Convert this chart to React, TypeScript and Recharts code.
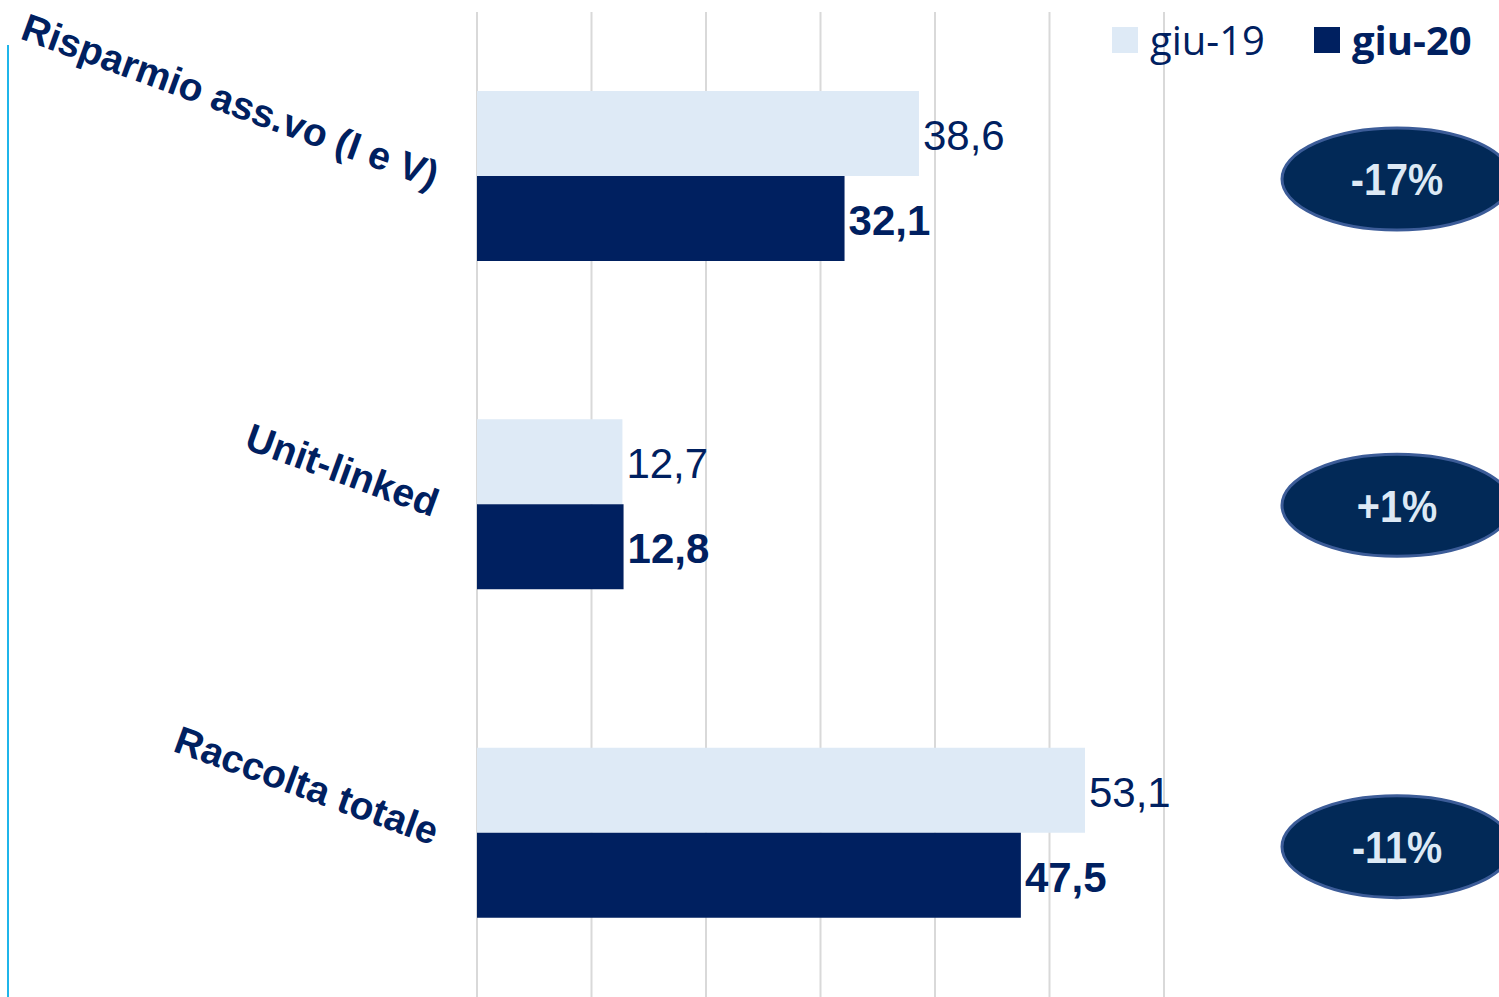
import React from 'react';
import { BarChart, Bar, XAxis, YAxis, CartesianGrid, LabelList, Legend } from 'recharts';

const categories = ['Risparmio ass.vo (I e V)', 'Unit-linked', 'Raccolta totale'];
const giu19 = [38.6, 12.7, 53.1];
const giu20 = [32.1, 12.8, 47.5];
const changes = ['-17%', '+1%', '-11%'];
const xTicks = [0, 10, 20, 30, 40, 50, 60];
const seriesNames = ['giu-19', 'giu-20'];

const data = categories.map((c, i) => ({
  category: c,
  giu19: giu19[i],
  giu20: giu20[i],
  change: changes[i],
}));

const NAVY = '#002060';
const LIGHT = '#deeaf6';
const BADGE_FILL = '#022957';
const BADGE_STROKE = '#3c5c98';
const BADGE_TEXT = '#dde9f5';
const badgeNudge = [3, 1, 14];

const fmt = (v: number) => v.toFixed(1).replace('.', ',');

const CatTick = (props: any) => {
  const { x, y, payload } = props;
  return (
    <text
      x={x}
      y={y}
      transform={`rotate(20, ${x}, ${y})`}
      textAnchor="end"
      dominantBaseline="central"
      fontFamily="'Liberation Sans', Arial, sans-serif"
      fontWeight={700}
      fontSize={39}
      fill={NAVY}
    >
      {payload.value}
    </text>
  );
};

const makeValueLabel = (bold: boolean) => (props: any) => {
  const { x, y, width, height, value } = props;
  return (
    <text
      x={Number(x) + Number(width) + 4}
      y={Number(y) + Number(height) / 2 + 2}
      dominantBaseline="central"
      fontFamily="'Liberation Sans', Arial, sans-serif"
      fontSize={42}
      fontWeight={bold ? 700 : 400}
      fill={NAVY}
    >
      {fmt(Number(value))}
    </text>
  );
};

const Badge = (props: any) => {
  const { y, value, index } = props;
  const cy = Number(y) + (badgeNudge[index] || 0);
  const cx = 1397;
  return (
    <g>
      <ellipse cx={cx} cy={cy} rx={115} ry={51} fill={BADGE_FILL} stroke={BADGE_STROKE} strokeWidth={3} />
      <text
        transform={`translate(${cx}, ${cy + 1}) scale(0.9, 1)`}
        x={0}
        y={0}
        textAnchor="middle"
        dominantBaseline="central"
        fontFamily="'Liberation Sans', Arial, sans-serif"
        fontWeight={700}
        fontSize={44}
        fill={BADGE_TEXT}
      >
        {value}
      </text>
    </g>
  );
};

const LegendContent = (props: any) => {
  const payload = props.payload || [];
  return (
    <div
      style={{
        display: 'flex',
        alignItems: 'center',
        fontFamily: "'Open Sans', sans-serif",
        fontSize: 40,
        lineHeight: 1,
        color: NAVY,
        whiteSpace: 'nowrap',
      }}
    >
      {payload.map((p: any, i: number) => (
        <div key={i} style={{ display: 'flex', alignItems: 'center', marginLeft: i ? 49 : 0 }}>
          <span style={{ display: 'inline-block', width: 26, height: 26, background: p.color, marginRight: 12 }} />
          <span style={{ fontWeight: i === 1 ? 700 : 400 }}>{p.value}</span>
        </div>
      ))}
    </div>
  );
};

export default function App() {
  return (
    <div style={{ position: 'absolute', left: 0, top: 0, width: 1499, height: 997, background: '#fff' }}>
      <div style={{ position: 'absolute', left: 7, top: 45, width: 2, height: 952, background: '#1fb5ea' }} />
      <BarChart
        width={1499}
        height={997}
        data={data}
        layout="vertical"
        margin={{ top: 12, right: 335, bottom: 0, left: 0 }}
        barGap={0}
      >
        <CartesianGrid horizontal={false} stroke="#d9d9d9" strokeWidth={2} />
        <XAxis type="number" domain={[0, 60]} ticks={xTicks} hide />
        <YAxis
          type="category"
          dataKey="category"
          width={477}
          axisLine={false}
          tickLine={false}
          tickMargin={34}
          interval={0}
          tick={<CatTick />}
        />
        <Legend
          layout="vertical"
          align="center"
          verticalAlign="middle"
          wrapperStyle={{ top: 20, left: 1112, width: 'auto' }}
          content={<LegendContent />}
        />
        <Bar dataKey="giu19" name={seriesNames[0]} fill={LIGHT} barSize={85} isAnimationActive={false}>
          <LabelList dataKey="giu19" content={makeValueLabel(false)} />
        </Bar>
        <Bar dataKey="giu20" name={seriesNames[1]} fill={NAVY} barSize={85} isAnimationActive={false}>
          <LabelList dataKey="giu20" content={makeValueLabel(true)} />
          <LabelList dataKey="change" content={<Badge />} />
        </Bar>
      </BarChart>
    </div>
  );
}
